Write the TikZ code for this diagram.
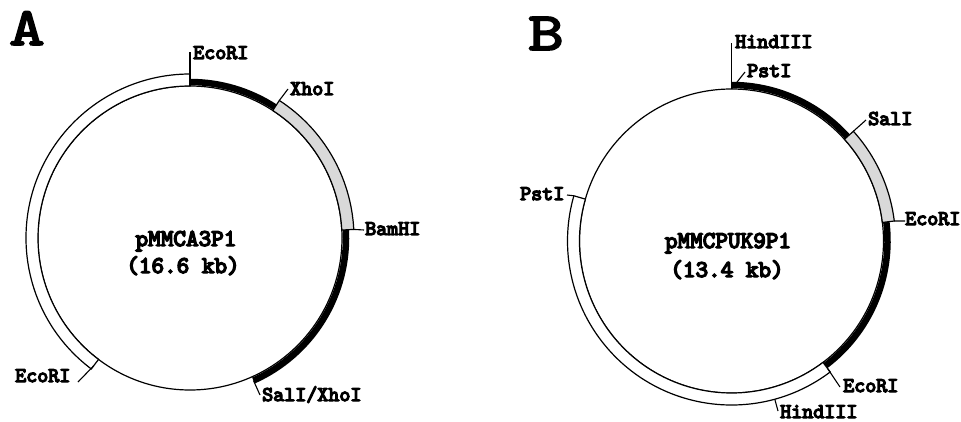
\documentclass[tikz,border=0pt]{standalone}
\usepackage{fontspec}
\usepackage{graphicx}
\newfontfamily\courb{lmmono10-regular.otf}[FakeBold=6]
\newfontfamily\courbig{lmmono10-regular.otf}[FakeBold=3]
\begin{document}
\begin{tikzpicture}[x=1pt,y=1pt,
  thinl/.style={line width=1.2pt},
  whiteband/.style={line width=1.2pt, fill=white},
  grayband/.style={line width=1.2pt, fill=gray!30},
  blackband/.style={line width=6.5pt},
  tick/.style={line width=1.1pt},
  lab/.style={font=\courb\fontsize{21}{21}\selectfont, inner sep=0pt, anchor=base west},
  ctr/.style={font=\courb\fontsize{24}{24}\selectfont, inner sep=0pt, anchor=base},
  big/.style={font=\courbig\fontsize{54}{54}\selectfont, inner sep=0pt, anchor=base west}]
\useasboundingbox (0,0) rectangle (961,421);

% ---------- Plasmid A ----------
\begin{scope}[shift={(190,183)}]
  \draw[thinl] (0,0) circle[radius=152pt];
  \draw[blackband] (90:156pt) arc[start angle=90,end angle=57,radius=156pt];
  \draw[blackband] (3:156pt) arc[start angle=3,end angle=-66,radius=156pt];
  \draw[grayband] (3:152pt) arc[start angle=3,end angle=57,radius=152pt] -- (57:164pt) arc[start angle=57,end angle=3,radius=164pt] -- cycle;
  \draw[whiteband] (90:152pt) arc[start angle=90,end angle=233,radius=152pt] -- (233:164pt) arc[start angle=233,end angle=90,radius=164pt] -- cycle;
  \coordinate (a1s) at (90:152pt);
  \coordinate (a2s) at (57:164pt);
  \coordinate (a3s) at (3:164pt);
  \coordinate (a4s) at (-66:156pt);
  \coordinate (a5s) at (233:160pt);
\end{scope}
\coordinate (a1e) at (190,369);
\coordinate (a2e) at (288,332);
\coordinate (a3e) at (364,191);
\coordinate (a4e) at (260,26);
\coordinate (a5e) at (78,39);
\draw[tick] (a1s) -- (a1e);
\draw[tick] (a2s) -- (a2e);
\draw[tick] (a3s) -- (a3e);
\draw[tick] (a4s) -- (a4e);
\draw[tick] (a5s) -- (a5e);
\node[lab] (aeco1) at (193,362) {EcoRI};
\node[lab] (axho) at (290,326) {XhoI};
\node[lab] (abam) at (365,186) {BamHI};
\node[lab] (asal) at (262,20) {SalI/XhoI};
\node[lab] (aeco2) at (15,39) {EcoRI};
\node[ctr] (aname) at (186,175) {pMMCA3P1};
\node[ctr] (asize) at (183,148) {(16.6 kb)};
\node[big] (labA) at (9,376) {\scalebox{1.25}[1]{A}};

% ---------- Plasmid B ----------
\begin{scope}[shift={(731.5,180)}]
  \draw[thinl] (0,0) circle[radius=152pt];
  \draw[blackband] (90:156pt) arc[start angle=90,end angle=42,radius=156pt];
  \draw[blackband] (7:156pt) arc[start angle=7,end angle=-53,radius=156pt];
  \draw[grayband] (7:152pt) arc[start angle=7,end angle=42,radius=152pt] -- (42:164pt) arc[start angle=42,end angle=7,radius=164pt] -- cycle;
  \draw[whiteband] (164:152pt) arc[start angle=164,end angle=307,radius=152pt] -- (307:164pt) arc[start angle=307,end angle=164,radius=164pt] -- cycle;
  \coordinate (b1s) at (90:152pt);
  \coordinate (b3s) at (42:164pt);
  \coordinate (b4s) at (7:164pt);
  \coordinate (b5s) at (-53:160pt);
  \coordinate (b6s) at (-74.7:164pt);
  \coordinate (b7s) at (164:164pt);
\end{scope}
\coordinate (b1e) at (731.5,378);
\coordinate (b2e) at (745,349);
\coordinate (b3e) at (866,301);
\coordinate (b4e) at (905,200);
\coordinate (b5e) at (840,34);
\coordinate (b6e) at (778,10);
\coordinate (b7e) at (567,226);
\draw[tick] (b1s) -- (b1e);
\draw[tick] (b1s) -- (b2e);
\draw[tick] (b3s) -- (b3e);
\draw[tick] (b4s) -- (b4e);
\draw[tick] (b5s) -- (b5e);
\draw[tick] (b6s) -- (b6e);
\draw[tick] (b7s) -- (b7e);
\node[lab] (bhind1) at (735,373) {HindIII};
\node[lab] (bpst1) at (747,344) {PstI};
\node[lab] (bsal) at (868,296) {SalI};
\node[lab] (beco1) at (905,196) {EcoRI};
\node[lab] (beco2) at (843,29) {EcoRI};
\node[lab] (bhind2) at (780,3) {HindIII};
\node[lab] (bpst2) at (520,221) {PstI};
\node[ctr] (bname) at (728,173) {pMMCPUK9P1};
\node[ctr] (bsize) at (727,144) {(13.4 kb)};
\node[big] (labB) at (528,371) {\scalebox{1.25}[1]{B}};
\end{tikzpicture}
\end{document}
